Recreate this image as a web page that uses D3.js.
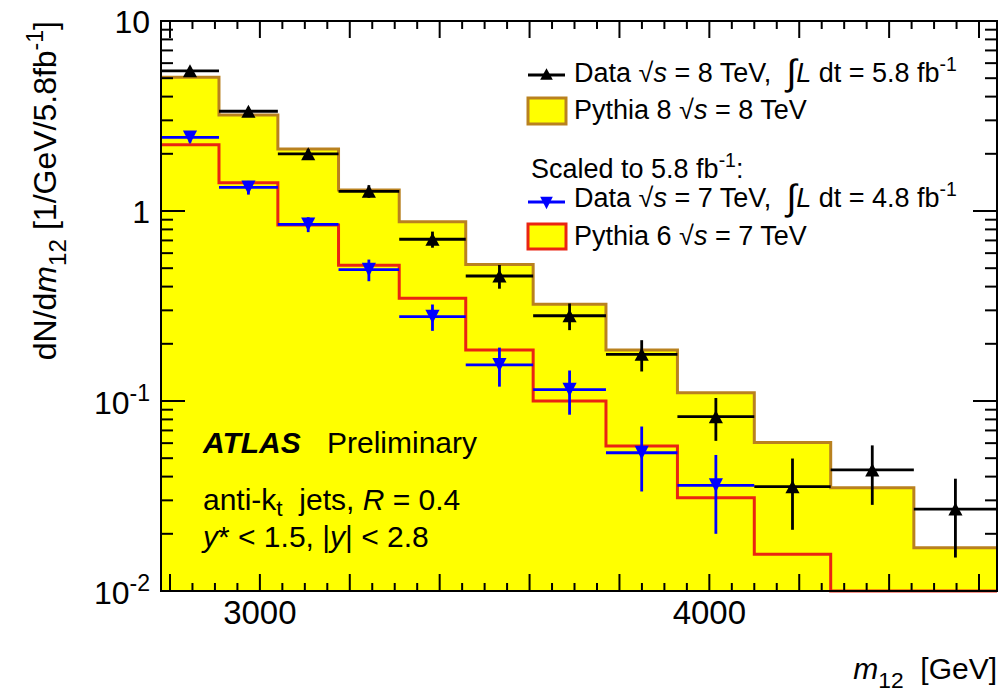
<!DOCTYPE html>
<html>
<head>
<meta charset="utf-8">
<script src="https://cdn.jsdelivr.net/npm/d3@7"></script>
<style>
  html, body { margin: 0; padding: 0; background: #fff; }
  svg { display: block; }
  text { font-family: "Liberation Sans", Arial, Helvetica, sans-serif; fill: #000; white-space: pre; }
</style>
</head>
<body>
<svg id="chart" width="1000" height="688"></svg>
<script>
// Dijet invariant mass bins (GeV)
const binEdges = [2780, 2909, 3040, 3175, 3310, 3458, 3608, 3770, 3929, 4100, 4270, 4455, 4640];

// 8 TeV data, 5.8 fb^-1 (dN/dm12 per GeV) and statistical uncertainty
const data8 = [5.47, 3.35, 2.00, 1.27, 0.710, 0.455, 0.281, 0.176, 0.0827, 0.0354, 0.0434, 0.0270];
const data8Err = [0.21, 0.16, 0.12, 0.097, 0.069, 0.065, 0.045, 0.033, 0.021, 0.0144, 0.015, 0.012];

// 7 TeV data, 4.8 fb^-1, scaled to 5.8 fb^-1
const data7 = [2.44, 1.33, 0.851, 0.491, 0.278, 0.155, 0.1147, 0.0534, 0.0360];
const data7Err = [0.15, 0.11, 0.077, 0.064, 0.044, 0.036, 0.030, 0.020, 0.016];

// Monte Carlo predictions
const pythia8 = [5.05, 3.20, 2.12, 1.29, 0.878, 0.523, 0.323, 0.1855, 0.1106, 0.0605, 0.0350, 0.0169];
const pythia6 = [2.23, 1.41, 0.844, 0.518, 0.347, 0.1855, 0.100, 0.058, 0.031, 0.0156, 0.006, 0.004];

// Axis ticks
const xMajorTicks = [2800, 3000, 3200, 3400, 3600, 3800, 4000, 4200, 4400, 4600];
const xTickLabels = [3000, 4000];
const yTickLabels = [10, 1, 0.1, 0.01];

const svg = d3.select("#chart");
const frameL = 161, frameR = 997, frameT = 21, frameB = 591;

const x = d3.scaleLinear().domain([2780, 4640]).range([frameL, frameR]);
const y = d3.scaleLog().domain([0.01, 10]).range([frameB, frameT]);
const yc = v => y(Math.max(v, 0.01));

const YELLOW = "#ffff00", BROWN = "#b9811f", RED = "#ea2412", BLUE = "#0000ff";

// rich text with italic / bold / sub / superscript / enlarged segments
function richText(g, xp, yp, parts, size, anchor) {
  const t = g.append("text").attr("x", xp).attr("y", yp)
    .attr("font-size", size).attr("text-anchor", anchor || "start");
  let shift = 0;
  parts.forEach(p => {
    const ts = t.append("tspan").text(p.t);
    let target = 0, fs = size;
    if (p.sub) { target = size * (p.sub === true ? 0.3 : p.sub); fs = size * 0.76; }
    if (p.sup) { target = -size * 0.42; fs = size * 0.72; }
    if (p.big) { target = size * 0.12; fs = size * p.big; }
    if (target !== shift) ts.attr("dy", target - shift);
    shift = target;
    ts.attr("font-size", fs);
    if (p.i) ts.attr("font-style", "italic");
    if (p.b) ts.attr("font-weight", "bold");
  });
  return t;
}

// step-histogram paths
function stepLine(vals) {
  const p = d3.path();
  vals.forEach((v, i) => {
    const x0 = x(binEdges[i]), x1 = x(binEdges[i + 1]), yy = yc(v);
    if (i === 0) p.moveTo(x0, yy); else p.lineTo(x0, yy);
    p.lineTo(x1, yy);
  });
  return p.toString();
}
function stepArea(vals) {
  const p = d3.path();
  p.moveTo(x(binEdges[0]), frameB);
  vals.forEach((v, i) => {
    p.lineTo(x(binEdges[i]), yc(v));
    p.lineTo(x(binEdges[i + 1]), yc(v));
  });
  p.lineTo(x(binEdges[vals.length]), frameB);
  p.closePath();
  return p.toString();
}

const plot = svg.append("g");
plot.append("path").attr("d", stepArea(pythia8)).attr("fill", YELLOW);
plot.append("path").attr("d", stepLine(pythia8)).attr("fill", "none")
  .attr("stroke", BROWN).attr("stroke-width", 3);
plot.append("path").attr("d", stepLine(pythia6)).attr("fill", "none")
  .attr("stroke", RED).attr("stroke-width", 3);

// marker shapes centred on their bounding box
const triUp = { draw(ctx, size) { const s = Math.sqrt(size); ctx.moveTo(0, -s * 0.92); ctx.lineTo(s, s * 0.92); ctx.lineTo(-s, s * 0.92); ctx.closePath(); } };
const triDown = { draw(ctx, size) { const s = Math.sqrt(size); ctx.moveTo(0, s * 0.98); ctx.lineTo(s, -s * 0.98); ctx.lineTo(-s, -s * 0.98); ctx.closePath(); } };
const MARK = 50;

function drawData(vals, errs, color, shape) {
  const g = plot.append("g");
  vals.forEach((v, i) => {
    const cx = x((binEdges[i] + binEdges[i + 1]) / 2);
    g.append("line").attr("x1", x(binEdges[i])).attr("x2", x(binEdges[i + 1]))
      .attr("y1", y(v)).attr("y2", y(v)).attr("stroke", color).attr("stroke-width", 2.8);
    g.append("line").attr("x1", cx).attr("x2", cx)
      .attr("y1", y(v + errs[i])).attr("y2", y(v - errs[i])).attr("stroke", color).attr("stroke-width", 2.8);
    g.append("path").attr("d", d3.symbol(shape, MARK)()).attr("transform", `translate(${cx},${y(v)})`)
      .attr("fill", color);
  });
}
drawData(data7, data7Err, BLUE, triDown);
drawData(data8, data8Err, "#000", triUp);

// frame and ticks
const axes = svg.append("g").attr("stroke", "#000");
axes.append("rect").attr("x", frameL).attr("y", frameT).attr("width", frameR - frameL).attr("height", frameB - frameT)
  .attr("fill", "none").attr("stroke-width", 2);

const xMinor = d3.range(2800, 4640, 50).filter(v => !xMajorTicks.includes(v));
xMajorTicks.forEach(v => {
  axes.append("line").attr("x1", x(v)).attr("x2", x(v)).attr("y1", frameB).attr("y2", frameB - 17).attr("stroke-width", 2);
  axes.append("line").attr("x1", x(v)).attr("x2", x(v)).attr("y1", frameT).attr("y2", frameT + 17).attr("stroke-width", 2);
});
xMinor.forEach(v => {
  axes.append("line").attr("x1", x(v)).attr("x2", x(v)).attr("y1", frameB).attr("y2", frameB - 8).attr("stroke-width", 2);
  axes.append("line").attr("x1", x(v)).attr("x2", x(v)).attr("y1", frameT).attr("y2", frameT + 8).attr("stroke-width", 2);
});
y.ticks().forEach(v => {
  const major = Math.abs(Math.log10(v) - Math.round(Math.log10(v))) < 1e-9;
  const len = major ? 24 : 12;
  axes.append("line").attr("x1", frameL).attr("x2", frameL + len).attr("y1", y(v)).attr("y2", y(v)).attr("stroke-width", 2);
  axes.append("line").attr("x1", frameR).attr("x2", frameR - len).attr("y1", y(v)).attr("y2", y(v)).attr("stroke-width", 2);
});

// tick labels
const labels = svg.append("g");
xTickLabels.forEach(v => {
  labels.append("text").attr("x", x(v)).attr("y", 624).attr("text-anchor", "middle")
    .attr("font-size", 33).text(d3.format("d")(v));
});
yTickLabels.forEach(v => {
  const e = Math.round(Math.log10(v));
  if (e >= 0) {
    labels.append("text").attr("x", 150).attr("y", y(v) + 11.5).attr("text-anchor", "end")
      .attr("font-size", 32).text(String(Math.pow(10, e)));
  } else {
    richText(labels, 150, y(v) + 13, [{ t: "10" }, { t: String(e), sup: true }], 32, "end");
  }
});

// axis titles
richText(svg.append("g"), 997, 679,
  [{ t: "m", i: true }, { t: "12", sub: true }, { t: "  [GeV]" }], 30, "end");
const yt = svg.append("g").attr("transform", "translate(56,21) rotate(-90)");
richText(yt, 0, 0,
  [{ t: "dN/d" }, { t: "m", i: true }, { t: "12", sub: true }, { t: " [1/GeV/5.8fb" }, { t: "-1", sup: true }, { t: "]" }],
  32, "end");

// legend
const lg = svg.append("g");
const lx0 = 528, lx1 = 565, lmid = 546.5, ltx = 574, fs = 27;
lg.append("line").attr("x1", lx0).attr("x2", lx1).attr("y1", 75).attr("y2", 75).attr("stroke", "#000").attr("stroke-width", 2.8);
lg.append("path").attr("d", d3.symbol(triUp, 40)()).attr("transform", `translate(${lmid},74)`).attr("fill", "#000");
richText(lg, ltx, 82, [{ t: "Data " }, { t: "√" }, { t: "s", i: true }, { t: " = 8 TeV,  " }, { t: "∫", big: 1.35 }, { t: "L", i: true },
  { t: " dt = 5.8 fb" }, { t: "-1", sup: true }], fs);

lg.append("rect").attr("x", lx0).attr("y", 98).attr("width", 38).attr("height", 26)
  .attr("fill", YELLOW).attr("stroke", BROWN).attr("stroke-width", 3);
richText(lg, ltx, 119, [{ t: "Pythia 8 " }, { t: "√" }, { t: "s", i: true }, { t: " = 8 TeV" }], fs);

richText(lg, 531, 178, [{ t: "Scaled to 5.8 fb" }, { t: "-1", sup: true }, { t: ":" }], fs);

lg.append("line").attr("x1", lx0).attr("x2", lx1).attr("y1", 202).attr("y2", 202).attr("stroke", BLUE).attr("stroke-width", 2.8);
lg.append("path").attr("d", d3.symbol(triDown, 40)()).attr("transform", `translate(${lmid},203)`).attr("fill", BLUE);
richText(lg, ltx, 207, [{ t: "Data " }, { t: "√" }, { t: "s", i: true }, { t: " = 7 TeV,  " }, { t: "∫", big: 1.35 }, { t: "L", i: true },
  { t: " dt = 4.8 fb" }, { t: "-1", sup: true }], fs);

lg.append("rect").attr("x", lx0).attr("y", 224).attr("width", 38).attr("height", 25)
  .attr("fill", YELLOW).attr("stroke", RED).attr("stroke-width", 3);
richText(lg, ltx, 245, [{ t: "Pythia 6 " }, { t: "√" }, { t: "s", i: true }, { t: " = 7 TeV" }], fs);

// experiment label and selection
const at = svg.append("g");
richText(at, 203, 453, [{ t: "ATLAS", b: true, i: true }], 30);
richText(at, 327, 453, [{ t: "Preliminary" }], 30);
richText(at, 203, 510, [{ t: "anti-k" }, { t: "t", sub: 0.2 }, { t: "  jets, " }, { t: "R", i: true }, { t: " = 0.4" }], 30);
richText(at, 203, 547, [{ t: "y", i: true }, { t: "* < 1.5, |" }, { t: "y", i: true }, { t: "| < 2.8" }], 30);
</script>
</body>
</html>
